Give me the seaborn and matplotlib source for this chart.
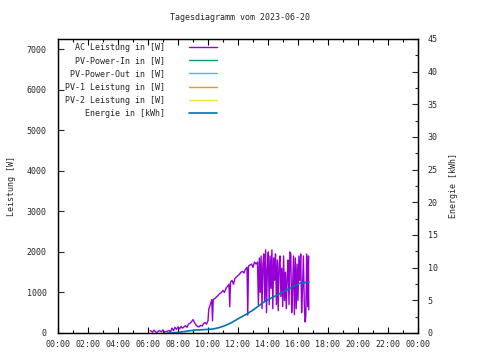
import matplotlib
matplotlib.use("Agg")
import matplotlib.pyplot as plt
import seaborn as sns
import pandas as pd
from matplotlib.ticker import MultipleLocator

# ---- data (hours of day, values) ----
ac_time = [6.15, 6.3, 6.4, 6.5, 6.6, 6.75, 6.9, 7.0, 7.1, 7.25, 7.4, 7.5, 7.6, 7.7, 7.8,
           7.9, 8.0, 8.1, 8.2, 8.3, 8.4, 8.5, 8.6, 8.7, 8.8, 8.9, 9.0, 9.1, 9.2, 9.3,
           9.4, 9.5, 9.6, 9.7, 9.8, 9.9, 10.0, 10.05, 10.15, 10.25, 10.3, 10.35, 10.45,
           10.6, 10.75, 10.9, 11.0, 11.1, 11.2, 11.3, 11.4, 11.45, 11.5, 11.6, 11.7, 11.8,
           11.9, 12.0, 12.1, 12.2, 12.3, 12.4, 12.5, 12.6, 12.65, 12.7, 12.8, 12.9, 13.0,
           13.1, 13.2,
           13.30, 13.36, 13.42, 13.48, 13.54, 13.60, 13.66, 13.72, 13.78, 13.84, 13.90,
           13.96, 14.02, 14.08, 14.14, 14.20, 14.26, 14.32, 14.38, 14.44, 14.50, 14.56,
           14.62, 14.68, 14.74, 14.80, 14.86, 14.92, 14.98, 15.04, 15.10, 15.16, 15.22,
           15.28, 15.34, 15.40, 15.46, 15.52, 15.58, 15.64, 15.70, 15.76, 15.82, 15.88,
           15.94, 16.00, 16.06, 16.12, 16.18, 16.24, 16.30, 16.36, 16.42, 16.47, 16.52,
           16.58, 16.64, 16.70, 16.72]
ac_power = [60, 20, 70, 30, 10, 60, 30, 80, 20, 40, 60, 30, 120, 60, 140,
            90, 150, 100, 160, 120, 150, 180, 140, 220, 240, 280, 330, 260, 200, 160,
            150, 190, 170, 230, 260, 220, 300, 580, 700, 820, 300, 830, 850,
            900, 960, 1000, 1050, 1000, 1100, 1150, 1200, 650, 1250, 1300, 1200, 1350,
            1380, 1420, 1450, 1500, 1520, 1480, 1580, 1620, 440, 1650, 1680, 1700, 1620,
            1750, 1700,
            1750, 700, 1850, 1000, 1900, 600, 1700, 1950, 800, 2050, 500,
            1600, 2000, 700, 1900, 1100, 2050, 600, 1850, 1300, 1950, 700,
            1800, 550, 1700, 1900, 900, 1600, 650, 1900, 800, 1500, 600,
            1400, 1800, 700, 2000, 1950, 500, 1100, 1900, 450, 1850, 600,
            1700, 800, 1900, 1300, 1950, 500, 1100, 1900, 700, 270, 400,
            1950, 650, 1900, 570]

energy_time = [7.3, 8.0, 8.5, 9.1, 9.6, 10.3, 10.7, 11.1, 11.5, 12.1, 12.5, 13.0,
               13.7, 14.1, 14.6, 15.0, 15.5, 16.1, 16.4, 16.72]
energy_kwh = [0.0, 0.1, 0.25, 0.45, 0.5, 0.6, 0.8, 1.1, 1.5, 2.3, 2.8, 3.5,
              4.7, 5.2, 5.8, 6.3, 6.9, 7.6, 7.7, 7.8]

pv_in_time, pv_in = [], []
pv_out_time, pv_out = [], []
pv1_time, pv1 = [], []
pv2_time, pv2 = [], []

labels = ["AC Leistung in [W]", "PV-Power-In in [W]", "PV-Power-Out in [W]",
          "PV-1 Leistung in [W]", "PV-2 Leistung in [W]", "Energie in [kWh]"]
colors = ["#9400d3", "#009e73", "#56b4e9", "#e69f00", "#f0e442", "#0072b2"]
xticks_labels = ["00:00", "02:00", "04:00", "06:00", "08:00", "10:00", "12:00",
                 "14:00", "16:00", "18:00", "20:00", "22:00", "00:00"]
title = "Tagesdiagramm vom 2023-06-20"

# ---- plotting ----
sns.set_style("white")
plt.rcParams['font.family'] = ['DejaVu Sans Mono']
FS = 6

fig = plt.figure(figsize=(4.8, 3.6), dpi=100)
ax = fig.add_axes([58/480, 27/360, 360/480, 294/360])
ax2 = ax.twinx()

ac_df = pd.DataFrame({"t": ac_time, "p": ac_power})
en_df = pd.DataFrame({"t": energy_time, "e": energy_kwh})

sns.lineplot(data=ac_df, x="t", y="p", ax=ax, color=colors[0], lw=1.0,
             sort=False, estimator=None)
for t, v, c in [(pv_in_time, pv_in, colors[1]), (pv_out_time, pv_out, colors[2]),
                (pv1_time, pv1, colors[3]), (pv2_time, pv2, colors[4])]:
    ax.plot(t, v, color=c, lw=1.0)
sns.lineplot(data=en_df, x="t", y="e", ax=ax2, color=colors[5], lw=1.2,
             estimator=None)

ax.set_xlim(0, 24)
ax.set_ylim(0, 7250)
ax2.set_ylim(0, 45)

ax.set_xticks([2*i for i in range(13)])
ax.set_xticklabels(xticks_labels)
ax.xaxis.set_minor_locator(MultipleLocator(1))
ax.yaxis.set_major_locator(MultipleLocator(1000))
ax2.yaxis.set_major_locator(MultipleLocator(5))
ax2.yaxis.set_minor_locator(MultipleLocator(2.5))

ax.tick_params(axis="x", which="both", direction="in", top=True, bottom=True,
               labelsize=FS, pad=5, width=0.8, color="black")
ax.tick_params(axis="x", which="major", length=4)
ax.tick_params(axis="x", which="minor", length=2)
ax.tick_params(axis="y", which="both", direction="in", left=True, right=False,
               labelsize=FS, pad=8, length=4, width=0.8)
ax2.tick_params(axis="y", which="both", direction="in", right=True,
                labelsize=FS, pad=7, width=0.8)
ax2.tick_params(axis="y", which="major", length=4)
ax2.tick_params(axis="y", which="minor", length=2)

for a in (ax, ax2):
    for s in a.spines.values():
        s.set_visible(True)
        s.set_color("black")
        s.set_linewidth(0.9)

ax.set_xlabel("")
ax.set_ylabel("Leistung [W]", fontsize=FS, labelpad=8)
ax2.set_ylabel("Energie [kWh]", fontsize=FS, labelpad=8)
fig.text(0.5, 1 - 18/360, title, fontsize=FS, ha="center", va="center")

# legend (gnuplot style: right-aligned text, sample to the right)
handles = ax.get_lines()[:5] + ax2.get_lines()[:1]
leg = ax.legend(handles, labels, loc="upper right", bbox_to_anchor=(0.462, 1.012),
                markerfirst=False, frameon=False, fontsize=FS, handlelength=3.4,
                handletextpad=2.9, labelspacing=0.52, borderpad=0.35)
for col in leg._legend_box._children[-1]._children:
    col.align = "right"

fig.savefig("out.png", dpi=100)
